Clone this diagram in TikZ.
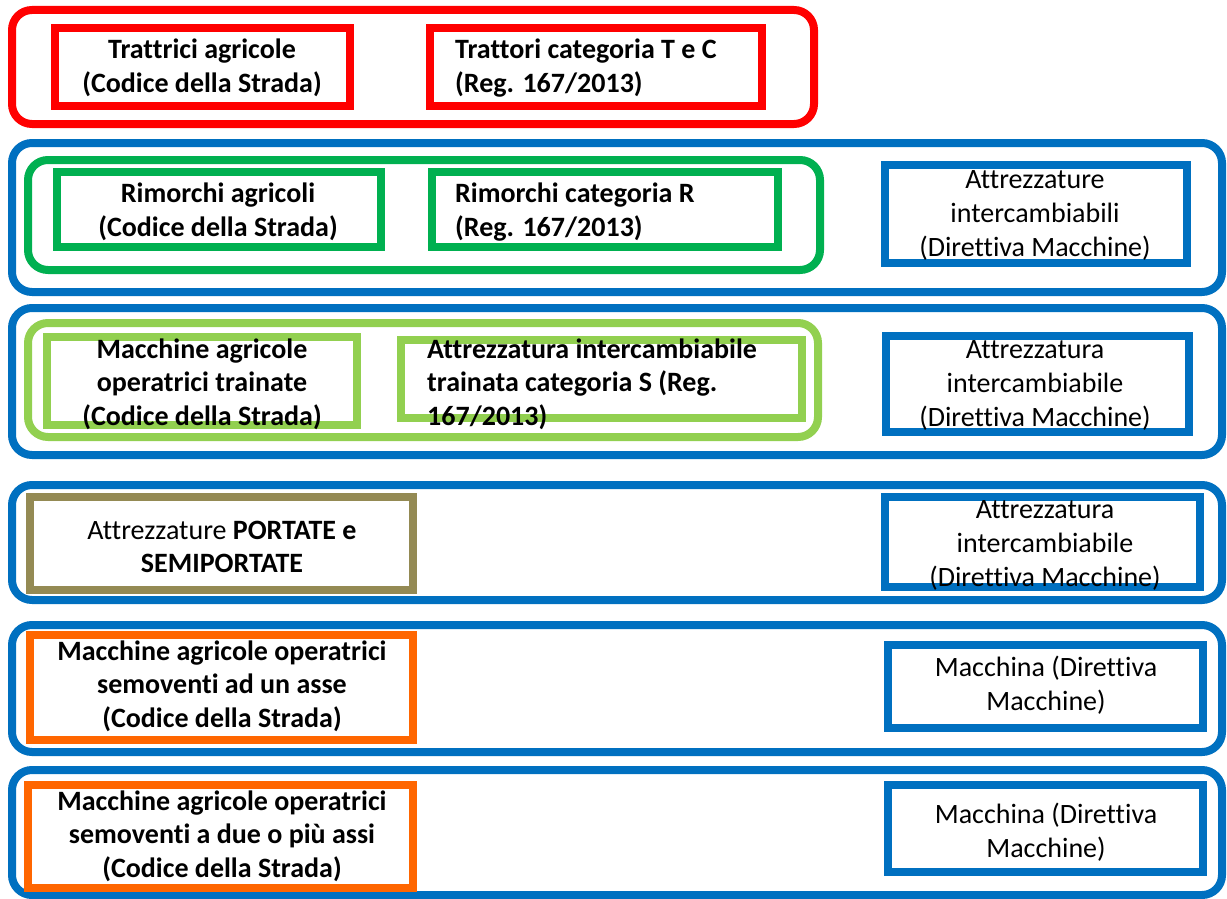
\documentclass[tikz,border=0pt]{standalone}
\usepackage{fontspec}
\setmainfont[Ligatures=NoCommon]{Carlito}
\usetikzlibrary{shadows}
\definecolor{cred}{RGB}{255,0,0}
\definecolor{cblue}{RGB}{0,112,192}
\definecolor{cgreen}{RGB}{0,176,80}
\definecolor{clgreen}{RGB}{146,208,80}
\definecolor{colive}{RGB}{148,138,84}
\definecolor{corange}{RGB}{255,102,0}
\tikzset{
  outerbox/.style={draw=#1, line width=8pt, rounded corners=20pt, fill=white, inner sep=0pt,
    drop shadow={opacity=0.2, shadow xshift=2pt, shadow yshift=-3pt}},
  innerbox/.style={draw=#1, line width=8pt, fill=white, inner sep=0pt,
    drop shadow={opacity=0.2, shadow xshift=2pt, shadow yshift=-3pt}},
  groupbox/.style={draw=#1, line width=8pt, rounded corners=20pt, fill=white, inner sep=0pt},
  tb/.style={font=\fontsize{28}{33.5}\selectfont\bfseries, align=center, inner sep=0pt},
  tbl/.style={font=\fontsize{28}{33.5}\selectfont\bfseries, align=left, inner sep=0pt, anchor=west},
  tn/.style={font=\fontsize{28}{34}\selectfont, align=center, inner sep=0pt},
}
\begin{document}
\begin{tikzpicture}[x=1pt,y=-1pt]
\useasboundingbox (0,0) rectangle (1227,899);
% ---- Row 1
\node[outerbox=cred, minimum width=802, minimum height=114] (r1) at (413,67) {};
\node[innerbox=cred, minimum width=295, minimum height=78] (r1a) at (202.5,67) {};
\node[innerbox=cred, minimum width=332, minimum height=78] (r1b) at (596,67) {};
\node[tb] (t1a) at (202,68) {Trattrici agricole\\(Codice della Strada)};
\node[tbl] (t1b) at (455,68) {Trattori categoria T e C\\(Reg. 167/2013)};
% ---- Row 2
\node[outerbox=cblue, minimum width=1210, minimum height=149] (r2) at (617,217.5) {};
\node[groupbox=cgreen, minimum width=792, minimum height=110] (g2) at (424,215) {};
\node[innerbox=cgreen, minimum width=324, minimum height=75] (r2a) at (219,209.5) {};
\node[innerbox=cgreen, minimum width=346, minimum height=75] (r2b) at (605,209.5) {};
\node[innerbox=cblue, minimum width=302, minimum height=98] (r2c) at (1036,214) {};
\node[tb] (t2a) at (218,212) {Rimorchi agricoli\\(Codice della Strada)};
\node[tbl] (t2b) at (455,212) {Rimorchi categoria R\\(Reg. 167/2013)};
\node[tn] (t2c) at (1035,215) {Attrezzature\\intercambiabili\\(Direttiva Macchine)};
% ---- Row 3
\node[outerbox=cblue, minimum width=1210, minimum height=147] (r3) at (617,381.5) {};
\node[groupbox=clgreen, minimum width=790, minimum height=114] (g3) at (423,380) {};
\node[innerbox=clgreen, minimum width=310, minimum height=88] (r3a) at (202,381) {};
\node[innerbox=clgreen, minimum width=401, minimum height=78] (r3b) at (601.5,379) {};
\node[innerbox=cblue, minimum width=303, minimum height=96] (r3c) at (1037.5,384) {};
\node[tb] (t3a) at (202,384) {Macchine agricole\\operatrici trainate\\(Codice della Strada)};
\node[tbl] (t3b) at (427,384) {Attrezzatura intercambiabile\\trainata categoria S (Reg.\\167/2013)};
\node[tn] (t3c) at (1035,385) {Attrezzatura\\intercambiabile\\(Direttiva Macchine)};
% ---- Row 4
\node[outerbox=cblue, minimum width=1210, minimum height=115] (r4) at (617,542.5) {};
\node[innerbox=colive, minimum width=383, minimum height=93] (r4a) at (221.5,543.5) {};
\node[innerbox=cblue, minimum width=315, minimum height=90] (r4c) at (1042.5,542) {};
\node[tb] (t4a) at (222,547) {\mdseries Attrezzature \bfseries PORTATE e\\SEMIPORTATE};
\node[tn] (t4c) at (1045,545) {Attrezzatura\\intercambiabile\\(Direttiva Macchine)};
% ---- Row 5
\node[outerbox=cblue, minimum width=1210, minimum height=127] (r5) at (617,688.5) {};
\node[innerbox=corange, minimum width=383, minimum height=105] (r5a) at (221.5,687.5) {};
\node[innerbox=cblue, minimum width=315, minimum height=83] (r5c) at (1045.5,686.5) {};
\node[tb] (t5a) at (222,686) {Macchine agricole operatrici\\semoventi ad un asse\\(Codice della Strada)};
\node[tn] (t5c) at (1046,685) {Macchina (Direttiva\\Macchine)};
% ---- Row 6
\node[outerbox=cblue, minimum width=1210, minimum height=125] (r6) at (617,832.5) {};
\node[innerbox=corange, minimum width=385, minimum height=103] (r6a) at (220.5,836.5) {};
\node[innerbox=cblue, minimum width=315, minimum height=87] (r6c) at (1045.5,828.5) {};
\node[tb] (t6a) at (222,836) {Macchine agricole operatrici\\semoventi a due o più assi\\(Codice della Strada)};
\node[tn] (t6c) at (1046,832) {Macchina (Direttiva\\Macchine)};
\end{tikzpicture}
\end{document}
